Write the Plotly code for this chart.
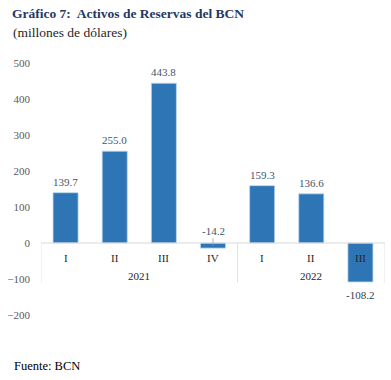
import plotly.graph_objects as go

quarters = ["I", "II", "III", "IV", "I", "II", "III"]
years = ["2021", "2022"]
year_groups = [4, 3]
values = [139.7, 255.0, 443.8, -14.2, 159.3, 136.6, -108.2]
labels = ["139.7", "255.0", "443.8", "-14.2", "159.3", "136.6", "-108.2"]
yticks = [-200, -100, 0, 100, 200, 300, 400, 500]

xpos = list(range(len(values)))
FONT = "Liberation Serif"

fig = go.Figure()
fig.add_trace(go.Bar(
    x=xpos, y=values, width=0.51,
    marker=dict(color="#2E75B6", line=dict(color="#BDD7EE", width=0.8)),
    hoverinfo="skip",
))

ann = []
for i, (v, t) in enumerate(zip(values, labels)):
    if v >= 0:
        ann.append(dict(x=i, y=v, xref="x", yref="y", text=t, showarrow=False,
                        yanchor="bottom", yshift=3,
                        font=dict(family=FONT, size=11, color="#44546A")))
    elif v > -50:
        ann.append(dict(x=i, y=v / 2, xref="x", yref="y", text=t, showarrow=True,
                        arrowhead=0, arrowwidth=0.8, arrowcolor="#A6A6A6",
                        ax=0, ay=-15,
                        font=dict(family=FONT, size=11, color="#44546A")))
    else:
        ann.append(dict(x=i, y=v, xref="x", yref="y", text=t, showarrow=False,
                        yanchor="top", yshift=-5,
                        font=dict(family=FONT, size=11, color="#333F50")))

for i, q in enumerate(quarters):
    ann.append(dict(x=i, y=-42, xref="x", yref="y", text=q, showarrow=False,
                    font=dict(family=FONT, size=11, color="#262626")))

start = 0
shapes = [dict(type="line", xref="x", yref="y", x0=-0.5, x1=len(values) - 0.5,
               y0=0, y1=0, line=dict(color="#D9D9D9", width=1))]
shapes.append(dict(type="line", xref="x", yref="y", x0=-0.5, x1=-0.5,
                   y0=0, y1=-111, line=dict(color="#E3E3E3", width=1), layer="below"))
for yr, n in zip(years, year_groups):
    ann.append(dict(x=start + (n - 1) / 2, y=-92, xref="x", yref="y", text=yr,
                    showarrow=False, font=dict(family=FONT, size=11, color="#262626")))
    end = start + n - 0.5
    shapes.append(dict(type="line", xref="x", yref="y", x0=end, x1=end,
                       y0=0, y1=-111, line=dict(color="#E3E3E3", width=1), layer="below"))
    start += n

ann.append(dict(xref="paper", yref="paper", x=-0.087, y=1.123, xanchor="left",
                yanchor="middle", text="(millones de dólares)", showarrow=False,
                font=dict(family=FONT, size=13.5, color="#1F1F1F")))
ann.append(dict(xref="paper", yref="paper", x=-0.084, y=-0.202, xanchor="left",
                yanchor="middle", text="Fuente: BCN", showarrow=False,
                font=dict(family=FONT, size=12.5, color="#000000")))

fig.update_layout(
    width=391, height=380,
    margin=dict(l=41, r=6, t=63, b=65),
    paper_bgcolor="white", plot_bgcolor="white",
    showlegend=False,
    font=dict(family=FONT),
    title=dict(text="<b>Gráfico 7:  Activos de Reservas del BCN</b>",
               x=12 / 391, xref="container", xanchor="left",
               y=1 - 13 / 380, yref="container", yanchor="middle",
               font=dict(family=FONT, size=13.5, color="#1F3864")),
    xaxis=dict(range=[-0.5, len(values) - 0.5], showticklabels=False,
               showgrid=False, zeroline=False, showline=False, fixedrange=True),
    yaxis=dict(range=[-200, 500], tickvals=yticks, showgrid=False,
               zeroline=False, showline=False, ticks="", ticklabelstandoff=10,
               fixedrange=True,
               tickfont=dict(family=FONT, size=11, color="#595959")),
    annotations=ann, shapes=shapes,
)

fig.write_html("out.html", config={"displayModeBar": False},
               post_script="document.body.style.margin='0px';")
